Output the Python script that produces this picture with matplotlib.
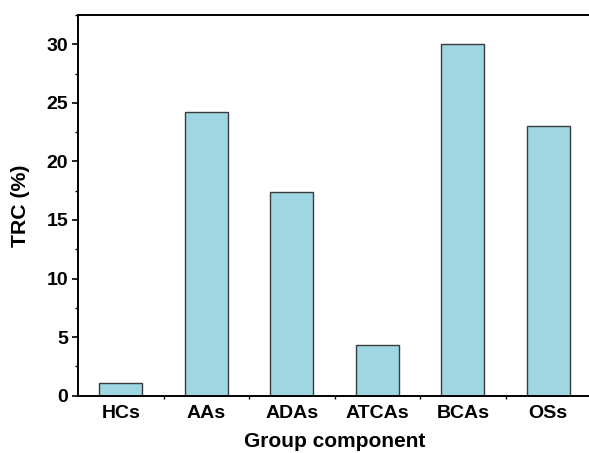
import matplotlib
matplotlib.use("Agg")
import matplotlib.pyplot as plt
from matplotlib.ticker import MultipleLocator, FixedLocator
import numpy as np

categories = ["HCs", "AAs", "ADAs", "ATCAs", "BCAs", "OSs"]
trc = [1.05, 24.2, 17.4, 4.3, 30.0, 23.0]

plt.rcParams['font.family'] = ['Liberation Sans', 'DejaVu Sans']
plt.rcParams['font.weight'] = 'bold'

fig = plt.figure(figsize=(5.89, 4.53), dpi=100)
# axes runs off the right edge like in the cropped original
ax = fig.add_axes([78 / 589, 1 - 395.7 / 453, 513 / 589, (395.7 - 15) / 453])

x = np.arange(len(categories))
ax.bar(x, trc, width=0.5, color='#9ed7e2', edgecolor='#3a3a3a', linewidth=1.0, zorder=2)

ax.set_xlim(-0.5, 5.5)
ax.set_ylim(0, 32.5)
ax.yaxis.set_major_locator(MultipleLocator(5))
ax.yaxis.set_minor_locator(MultipleLocator(2.5))
ax.set_xticks(x)
ax.set_xticklabels(categories)
ax.xaxis.set_minor_locator(FixedLocator(x[:-1] + 0.5))

ax.tick_params(axis='y', which='major', direction='out', length=4, width=1.2, labelsize=14, pad=3)
ax.tick_params(axis='y', which='minor', direction='out', length=2, width=1)
ax.tick_params(axis='x', which='major', length=0, labelsize=14, pad=7)
ax.tick_params(axis='x', which='minor', direction='out', length=2, width=1)

for side in ['left', 'top', 'bottom']:
    ax.spines[side].set_linewidth(1.4)
ax.spines['right'].set_visible(False)

ax.set_xlabel("Group component", fontsize=15, fontweight='bold', labelpad=7)
ax.set_ylabel("TRC (%)", fontsize=15.3, fontweight='bold', labelpad=12)

fig.savefig("out.png", dpi=100)
